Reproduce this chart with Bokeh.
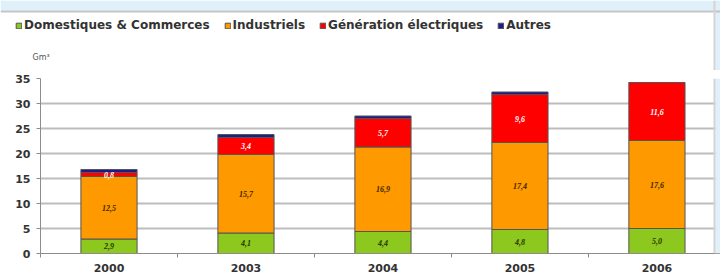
from bokeh.plotting import figure
from bokeh.layouts import column, row
from bokeh.models import (ColumnDataSource, Range1d, FixedTicker, Legend, LegendItem,
                          LabelSet, Label, Span, BoxAnnotation)
from bokeh.embed import file_html
from bokeh.resources import INLINE

years = ["2000", "2003", "2004", "2005", "2006"]
domestiques = [2.9, 4.1, 4.4, 4.8, 5.0]
industriels = [12.5, 15.7, 16.9, 17.4, 17.6]
generation = [0.8, 3.4, 5.7, 9.6, 11.6]
autres = [0.6, 0.6, 0.5, 0.5, 0.0]

series = ["domestiques", "industriels", "generation", "autres"]
series_names = ["Domestiques & Commerces", "Industriels", "Génération électriques", "Autres"]
colors = ["#8cc81e", "#ff9900", "#ff0000", "#1c1c8c"]
label_colors = ["#2a3300", "#3a2600", "#ffffff"]
y_ticks = [0, 5, 10, 15, 20, 25, 30, 35]
unit = "Gm³"

FONT = "DejaVu Sans"
W = 720
HH = 70
BG = "#dff0fa"
X_END = 4.964

xs = [i + 0.5 for i in range(len(years))]
data = dict(x=xs, domestiques=domestiques, industriels=industriels,
            generation=generation, autres=autres)
src = ColumnDataSource(data)

# ---- main chart ----
p = figure(width=W, height=205, output_backend="svg", toolbar_location=None,
           x_range=Range1d(0, X_END), y_range=Range1d(0, 35), title_location=None,
           min_border_left=40, min_border_right=0, min_border_top=8, min_border_bottom=22)
p.outline_line_color = None
p.background_fill_color = "white"
p.border_fill_color = "white"

renderers = p.vbar_stack(series, x="x", width=0.41, source=src, color=colors,
                         line_color="#555555", line_width=1)

vals = [domestiques, industriels, generation]
base = [0.0] * len(years)
for k, v in enumerate(vals):
    mids = [b + val / 2 for b, val in zip(base, v)]
    txt = [f"{val:.1f}".replace(".", ",") for val in v]
    ls = ColumnDataSource(dict(x=xs, y=mids, t=txt))
    p.add_layout(LabelSet(x="x", y="y", text="t", source=ls, text_align="center",
                          text_baseline="middle", text_font=FONT, text_font_size="8px",
                          text_font_style="bold italic", text_color=label_colors[k]))
    base = [b + val for b, val in zip(base, v)]

p.yaxis.ticker = FixedTicker(ticks=y_ticks)
p.yaxis.major_tick_out = 4
p.yaxis.major_tick_in = 0
p.yaxis.minor_tick_out = 0
p.yaxis.minor_tick_in = 0
p.yaxis.axis_line_color = "#8c8c8c"
p.yaxis.major_tick_line_color = "#8c8c8c"
p.yaxis.major_label_text_font = FONT
p.yaxis.major_label_text_font_size = "11px"
p.yaxis.major_label_text_font_style = "bold"
p.yaxis.major_label_text_color = "#333333"
p.yaxis.major_label_standoff = 6

p.xaxis.ticker = FixedTicker(ticks=xs, minor_ticks=list(range(len(years) + 1)))
p.xaxis.major_label_overrides = {x: y for x, y in zip(xs, years)}
p.xaxis.major_tick_out = 0
p.xaxis.major_tick_in = 0
p.xaxis.minor_tick_out = 4
p.xaxis.minor_tick_in = 0
p.xaxis.minor_tick_line_color = "#8c8c8c"
p.xaxis.axis_line_color = "#8c8c8c"
p.xaxis.major_label_text_font = FONT
p.xaxis.major_label_text_font_size = "11px"
p.xaxis.major_label_text_font_style = "bold"
p.xaxis.major_label_text_color = "#333333"
p.xaxis.major_label_standoff = 6

p.xgrid.grid_line_color = None
p.ygrid.grid_line_color = "#bdbdbd"
p.ygrid.grid_line_width = 2

# panel edge on the right (page decoration)
px = 1.0 / 137
p.add_layout(BoxAnnotation(left=X_END - 5 * px, right=X_END, fill_color=BG,
                           fill_alpha=1, line_color=None, level="overlay"))
p.add_layout(Span(location=X_END - 6 * px, dimension="height", line_color="#d4d4d4",
                  line_width=2, level="overlay"))

# ---- header (legend + unit); its ranges are in pixels ----
h = figure(width=W, height=HH, output_backend="svg", toolbar_location=None,
           x_range=Range1d(0, W), y_range=Range1d(0, HH), title_location=None,
           x_axis_location=None, y_axis_location=None,
           min_border_left=0, min_border_right=0, min_border_top=0, min_border_bottom=0)
h.outline_line_color = None
h.xgrid.visible = False
h.ygrid.visible = False
h.border_fill_color = "white"
h.background_fill_color = "white"

# hidden copies only feed the legend swatches
leg_r = [h.vbar(x="x", top=s, width=0.41, source=src, fill_color=c,
                line_color="#555555", line_width=1, visible=False)
         for s, c in zip(series, colors)]
items = [LegendItem(label=n, renderers=[r]) for n, r in zip(series_names, leg_r)]
legend = Legend(items=items, orientation="horizontal", location=(15, 38),
                label_text_font=FONT, label_text_font_size="12px",
                label_text_font_style="bold", label_text_color="#333333",
                glyph_width=7, glyph_height=7, label_standoff=2, spacing=14,
                padding=0, margin=0, border_line_color=None,
                background_fill_alpha=0, label_height=12, inactive_fill_alpha=0)
h.add_layout(legend, "center")

h.add_layout(BoxAnnotation(bottom=HH - 10, top=HH, left=0, right=W,
                           fill_color=BG, fill_alpha=1, line_color=None))
h.add_layout(BoxAnnotation(bottom=0, top=HH, left=W - 5, right=W,
                           fill_color=BG, fill_alpha=1, line_color=None))
h.add_layout(Span(location=HH - 11, dimension="width", line_color="#c4c4c4", line_width=2))
h.add_layout(Span(location=W - 6, dimension="height", line_color="#d4d4d4", line_width=2))

h.add_layout(Label(x=32, y=HH - 61, text=unit,
                   text_font=FONT, text_font_size="8px", text_color="#555555"))

page = column(row(h), p, spacing=0)

open("out.html", "w").write(file_html(page, INLINE))
